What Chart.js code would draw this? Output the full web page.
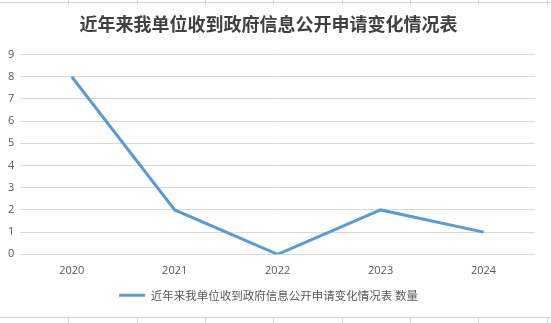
<!DOCTYPE html>
<html>

<head>
    <title>信息公开申请变化情况</title>
    <script src="https://cdn.jsdelivr.net/npm/chart.js"></script>
    <style>
        body {
            margin: 0;
            background: #fff;
        }

        #wrap {
            position: relative;
            width: 551px;
            height: 323px;
        }

        /* 表格网格线 */
        .hline {
            position: absolute;
            left: 0;
            width: 551px;
            height: 1px;
            background: #d4d4d4;
        }

        .vtick {
            position: absolute;
            width: 1px;
            height: 5px;
            background: #d4d4d4;
        }

        #chartCanvas {
            position: absolute;
            left: 0;
            top: 0;
        }
    </style>
</head>

<body>
    <div id="wrap">
        <div class="hline" style="top:2px"></div>
        <div class="hline" style="top:317px"></div>
        <canvas id="chartCanvas" width="551" height="323"></canvas>
    </div>
    <script>
        const years = ['2020', '2021', '2022', '2023', '2024'];
        const counts = [8, 2, 0, 2, 1];
        const titleText = '近年来我单位收到政府信息公开申请变化情况表';
        const seriesName = '近年来我单位收到政府信息公开申请变化情况表 数量';
        const lineColor = '#5b9bd5';

        // 单元格竖线
        const wrap = document.getElementById('wrap');
        [68, 137, 205, 273, 342, 410, 478, 547].forEach(x => {
            [0, 318].forEach(y => {
                const d = document.createElement('div');
                d.className = 'vtick';
                d.style.left = x + 'px';
                d.style.top = y + 'px';
                wrap.appendChild(d);
            });
        });

        const chartCanvas = document.getElementById('chartCanvas');
        const chart = new Chart(chartCanvas, {
            type: 'line',
            data: {
                labels: years,
                datasets: [{
                    label: seriesName,
                    data: counts,
                    borderColor: lineColor,
                    backgroundColor: lineColor,
                    borderWidth: 3,
                    pointRadius: 0,
                    tension: 0
                }]
            },
            options: {
                responsive: false,
                animation: false,
                layout: {
                    padding: { left: 2, right: 16, top: 8, bottom: 12 }
                },
                plugins: {
                    title: {
                        display: true,
                        text: titleText,
                        color: '#404040',
                        font: { family: '"Noto Sans CJK SC"', size: 18, weight: 'bold' },
                        padding: { top: 5, bottom: 20 }
                    },
                    legend: {
                        position: 'bottom',
                        labels: {
                            color: '#595959',
                            font: { family: '"Noto Sans CJK SC"', size: 11.5 },
                            boxWidth: 26,
                            boxHeight: 3,
                            padding: 10,
                            generateLabels(c) {
                                const items = Chart.defaults.plugins.legend.labels.generateLabels(c);
                                items.forEach(it => { it.lineWidth = 0; it.fillStyle = lineColor; });
                                return items;
                            }
                        }
                    },
                    tooltip: { enabled: false }
                },
                scales: {
                    x: {
                        offset: true,
                        grid: { display: false },
                        border: { display: false },
                        ticks: { color: '#595959', font: { family: 'Open Sans', size: 11 }, padding: 2 }
                    },
                    y: {
                        min: 0,
                        max: 9,
                        ticks: { stepSize: 1, color: '#595959', font: { family: 'Open Sans', size: 11 }, padding: 6 },
                        grid: { color: '#d9d9d9', drawTicks: false },
                        border: { display: false }
                    }
                }
            }
        });
    </script>
</body>

</html>
